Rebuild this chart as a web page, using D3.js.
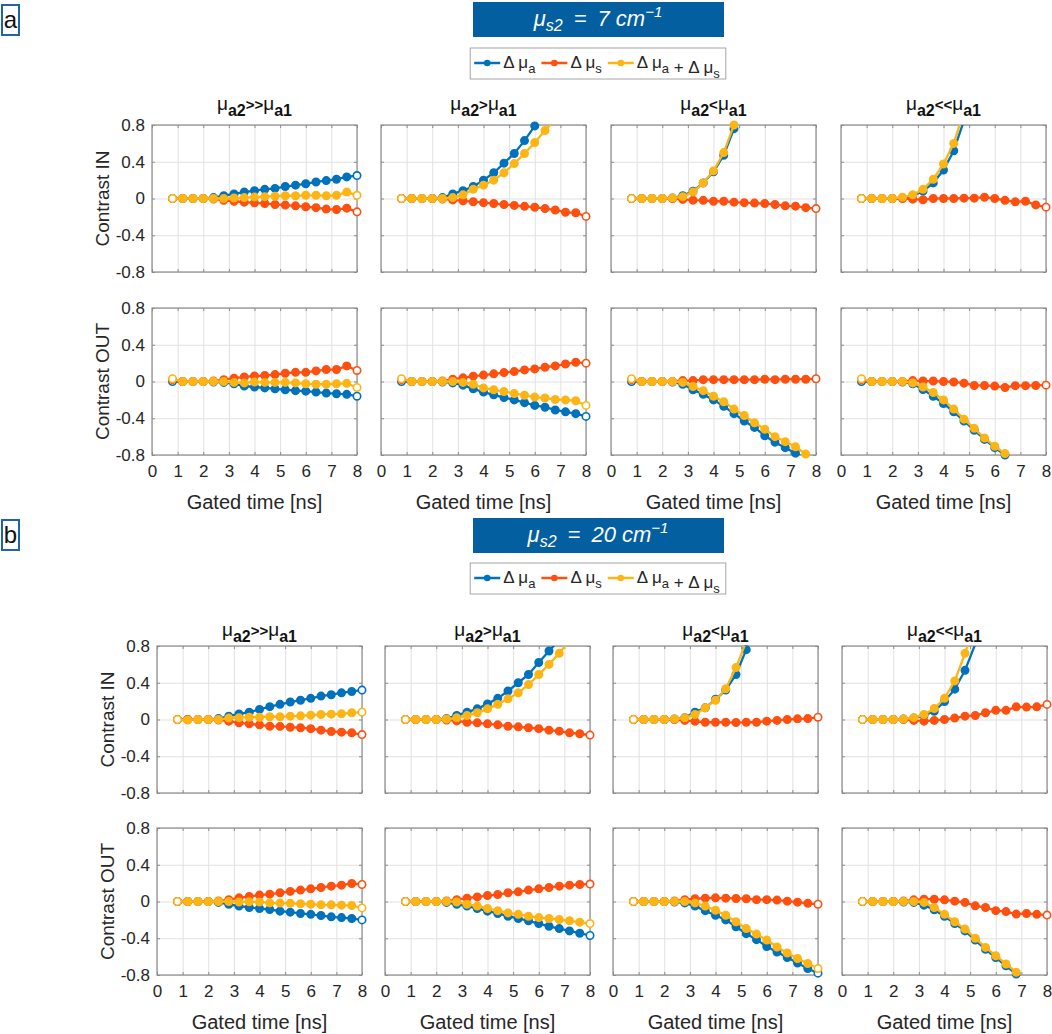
<!DOCTYPE html>
<html>
<head>
<meta charset="utf-8">
<script src="https://cdn.jsdelivr.net/npm/d3@7"></script>
<style>
body { margin: 0; background: #fff; }
text { font-family: "Liberation Sans", Arial, sans-serif; fill: #262626; }
</style>
</head>
<body>
<div id="chart"></div>
<script>
const STROKES = ["#0072BD", "#FF5010", "#FDB515"];
const FONT = '"Liberation Sans", Arial, sans-serif';

// Gated time samples [ns] and axis ticks
const TIMES = [0.8, 1.2, 1.6, 2.0, 2.4, 2.8, 3.2, 3.6, 4.0, 4.4, 4.8, 5.2, 5.6, 6.0, 6.4, 6.8, 7.2, 7.6, 8.0];
const X_TICKS = [0, 1, 2, 3, 4, 5, 6, 7, 8];
const Y_TICKS = [-0.8, -0.4, 0, 0.4, 0.8];
const Y_TICK_LABELS = ["-0.8", "-0.4", "0", "0.4", "0.8"];

const PANEL_LETTERS = ["a", "b"];
const PANEL_MUS2 = ["7", "20"];
const RELATIONS = [">>", ">", "<", "<<"];
const ROW_LABELS = ["Contrast IN", "Contrast OUT"];
const X_LABEL = "Gated time [ns]";
// legend entries as [text, subscript] pieces
const LEGEND_LABELS = [
    [["\u0394 \u03bc", "a"]],
    [["\u0394 \u03bc", "s"]],
    [["\u0394 \u03bc", "a"], [" + \u0394 \u03bc", "s"]]
];

// Panel a (mu_s2 = 7), one inner array per column, Contrast IN
const A_IN_DMUA = [
    [0, 0, 0, 0, 0.01, 0.03, 0.05, 0.07, 0.085, 0.1, 0.11, 0.13, 0.145, 0.16, 0.18, 0.195, 0.21, 0.235, 0.25],
    [0, 0, 0, 0, 0.01, 0.05, 0.085, 0.13, 0.2, 0.28, 0.385, 0.49, 0.63, 0.79, 1.0, 1.25, 1.5, 1.8, 2.1],
    [0, 0, 0, 0, 0.005, 0.03, 0.08, 0.17, 0.29, 0.47, 0.76, 1.2, 1.6, 2.0, 2.5, 3.0, 3.5, 4.0, 4.5],
    [0, 0, 0, 0, 0.005, 0.03, 0.08, 0.17, 0.31, 0.52, 0.85, 1.3, 1.8, 2.4, 3.0, 3.6, 4.2, 4.8, 5.4]
];
const A_IN_DMUS = [
    [0, 0, 0, 0, -0.005, -0.02, -0.03, -0.04, -0.047, -0.054, -0.065, -0.072, -0.08, -0.09, -0.1, -0.115, -0.12, -0.105, -0.145],
    [0, 0, 0, 0, -0.005, -0.015, -0.025, -0.035, -0.045, -0.055, -0.065, -0.075, -0.085, -0.095, -0.11, -0.125, -0.15, -0.155, -0.195],
    [0, 0, 0, 0, 0, -0.01, -0.018, -0.02, -0.03, -0.03, -0.04, -0.045, -0.05, -0.055, -0.065, -0.08, -0.083, -0.1, -0.11],
    [0, 0, 0, 0, 0, -0.007, -0.014, 0, 0, 0, 0.004, 0.004, 0.014, 0, -0.02, -0.036, -0.03, -0.07, -0.094]
];
const A_IN_DSUM = [
    [0, 0, 0, 0, 0, 0, 0.005, 0.01, 0.015, 0.02, 0.025, 0.03, 0.03, 0.035, 0.035, 0.03, 0.035, 0.07, 0.035],
    [0, 0, 0, 0, 0, 0.01, 0.04, 0.1, 0.145, 0.2, 0.28, 0.38, 0.49, 0.61, 0.74, 0.86, 1.1, 1.3, 1.5],
    [0, 0, 0, 0, 0.005, 0.02, 0.07, 0.17, 0.3, 0.5, 0.8, 1.2, 1.6, 2.0, 2.4, 2.8, 3.2, 3.6, 4.0],
    [0, 0, 0, 0, 0.014, 0.04, 0.1, 0.21, 0.375, 0.6, 0.95, 1.4, 1.9, 2.5, 3.1, 3.7, 4.3, 4.9, 5.5]
];

// Panel a, Contrast OUT
const A_OUT_DMUA = [
    [0, 0, 0, 0, -0.005, -0.01, -0.025, -0.05, -0.06, -0.07, -0.08, -0.09, -0.1, -0.105, -0.115, -0.126, -0.133, -0.14, -0.16],
    [0, 0, 0, 0, -0.005, -0.015, -0.04, -0.08, -0.115, -0.145, -0.175, -0.2, -0.23, -0.26, -0.28, -0.31, -0.33, -0.35, -0.38],
    [0, 0, 0, 0, -0.005, -0.03, -0.09, -0.14, -0.2, -0.27, -0.35, -0.43, -0.5, -0.59, -0.66, -0.72, -0.78, -0.84, -0.9],
    [0, 0, 0, 0, -0.005, -0.025, -0.087, -0.16, -0.24, -0.33, -0.43, -0.53, -0.63, -0.72, -0.8, -0.9, -1.0, -1.1, -1.2]
];
const A_OUT_DMUS = [
    [0.02, 0, 0, 0, 0.005, 0.02, 0.036, 0.05, 0.06, 0.065, 0.075, 0.09, 0.1, 0.1, 0.115, 0.13, 0.13, 0.17, 0.12],
    [0.02, 0, 0, 0, 0.005, 0.025, 0.04, 0.058, 0.07, 0.083, 0.097, 0.108, 0.126, 0.137, 0.155, 0.17, 0.19, 0.21, 0.2],
    [0.02, 0, 0, 0, 0, 0.01, 0.01, 0.02, 0.02, 0.02, 0.02, 0.02, 0.02, 0.025, 0.02, 0.025, 0.025, 0.025, 0.03],
    [0.02, 0, 0, 0, 0, 0.01, 0.005, 0.005, 0, -0.005, -0.018, -0.043, -0.043, -0.05, -0.065, -0.045, -0.045, -0.043, -0.04]
];
const A_OUT_DSUM = [
    [0.03, 0, 0, 0, 0, 0, -0.01, -0.015, -0.005, -0.01, -0.01, -0.01, -0.015, -0.025, -0.03, -0.03, -0.025, -0.02, -0.065],
    [0.03, 0, 0, 0, 0, 0, -0.01, -0.03, -0.07, -0.09, -0.11, -0.13, -0.15, -0.17, -0.18, -0.195, -0.2, -0.21, -0.26],
    [0.03, 0, 0, 0, 0, -0.01, -0.055, -0.1, -0.16, -0.22, -0.3, -0.37, -0.45, -0.52, -0.6, -0.655, -0.71, -0.79, -0.85],
    [0.03, 0, 0, 0, 0, -0.015, -0.06, -0.12, -0.2, -0.3, -0.41, -0.51, -0.615, -0.705, -0.785, -0.88, -0.98, -1.08, -1.18]
];

// Panel b (mu_s2 = 20), Contrast IN
const B_IN_DMUA = [
    [0, 0, 0, 0, 0.01, 0.036, 0.06, 0.08, 0.11, 0.14, 0.165, 0.19, 0.21, 0.23, 0.255, 0.27, 0.29, 0.305, 0.32],
    [0, 0, 0, 0, 0.01, 0.044, 0.08, 0.116, 0.17, 0.23, 0.31, 0.4, 0.49, 0.62, 0.745, 0.87, 1.0, 1.15, 1.3],
    [0, 0, 0, 0, 0.005, 0.02, 0.08, 0.127, 0.22, 0.32, 0.49, 0.76, 1.1, 1.5, 1.9, 2.3, 2.7, 3.1, 3.5],
    [0, 0, 0, 0, 0.005, 0.015, 0.044, 0.09, 0.196, 0.33, 0.535, 0.82, 1.2, 1.6, 2.0, 2.4, 2.8, 3.2, 3.6]
];
const B_IN_DMUS = [
    [0, 0, 0, 0, -0.005, -0.018, -0.036, -0.047, -0.058, -0.073, -0.075, -0.084, -0.09, -0.1, -0.116, -0.13, -0.138, -0.145, -0.164],
    [0, 0, 0, 0, -0.005, -0.015, -0.03, -0.036, -0.047, -0.058, -0.073, -0.08, -0.09, -0.1, -0.116, -0.127, -0.145, -0.155, -0.17],
    [0, 0, 0, 0, 0, -0.01, -0.02, -0.03, -0.03, -0.03, -0.033, -0.03, -0.03, -0.018, -0.01, 0, 0.007, 0.01, 0.025],
    [0, 0, 0, 0, 0, -0.01, -0.018, -0.01, 0, 0.015, 0.036, 0.044, 0.073, 0.1, 0.1, 0.138, 0.135, 0.138, 0.164]
];
const B_IN_DSUM = [
    [0, -0.005, 0, 0, 0, 0.015, 0.02, 0.025, 0.025, 0.03, 0.03, 0.036, 0.04, 0.047, 0.055, 0.058, 0.062, 0.073, 0.08],
    [0, 0, 0, 0, 0.005, 0.018, 0.044, 0.073, 0.116, 0.165, 0.225, 0.29, 0.38, 0.49, 0.6, 0.72, 0.86, 1.0, 1.15],
    [0, 0, 0, 0, 0.005, 0.018, 0.055, 0.127, 0.21, 0.335, 0.565, 0.85, 1.2, 1.6, 2.0, 2.4, 2.8, 3.2, 3.6],
    [0, 0, 0, 0, 0.005, 0.02, 0.055, 0.12, 0.23, 0.42, 0.72, 1.05, 1.4, 1.8, 2.2, 2.6, 3.0, 3.4, 3.8]
];

// Panel b, Contrast OUT
const B_OUT_DMUA = [
    [0, 0, 0, 0, -0.01, -0.03, -0.05, -0.065, -0.076, -0.087, -0.105, -0.116, -0.13, -0.14, -0.153, -0.167, -0.175, -0.185, -0.2],
    [0, 0, 0, 0, -0.01, -0.03, -0.05, -0.076, -0.105, -0.13, -0.16, -0.185, -0.21, -0.24, -0.27, -0.295, -0.32, -0.345, -0.37],
    [0, 0, 0, 0, -0.005, -0.015, -0.05, -0.1, -0.15, -0.2, -0.275, -0.35, -0.415, -0.49, -0.55, -0.61, -0.67, -0.73, -0.78],
    [0, 0, 0, 0, -0.005, -0.01, -0.04, -0.09, -0.16, -0.24, -0.32, -0.42, -0.52, -0.61, -0.7, -0.79, -0.88, -0.97, -1.06]
];
const B_OUT_DMUS = [
    [0, 0, 0, 0, 0.005, 0.02, 0.04, 0.055, 0.07, 0.08, 0.095, 0.11, 0.124, 0.138, 0.153, 0.167, 0.178, 0.196, 0.185],
    [0, 0, 0, 0, 0.005, 0.02, 0.036, 0.05, 0.065, 0.076, 0.095, 0.105, 0.124, 0.138, 0.153, 0.167, 0.178, 0.185, 0.19],
    [0, 0, 0, 0, 0.005, 0.02, 0.03, 0.036, 0.04, 0.036, 0.033, 0.03, 0.02, 0.02, 0.015, 0.004, -0.007, -0.02, -0.03],
    [0, 0, 0, 0, 0.005, 0.018, 0.025, 0.025, 0.018, 0.004, -0.01, -0.047, -0.065, -0.1, -0.11, -0.137, -0.13, -0.14, -0.148]
];
const B_OUT_DSUM = [
    [0, 0, 0, 0, 0, 0, -0.005, -0.003, -0.005, -0.015, -0.017, -0.02, -0.025, -0.03, -0.036, -0.036, -0.04, -0.044, -0.07],
    [0, 0, 0, 0, 0, -0.005, -0.03, -0.05, -0.076, -0.1, -0.124, -0.14, -0.16, -0.175, -0.185, -0.196, -0.21, -0.225, -0.24],
    [0, 0, 0, 0, 0, 0, -0.015, -0.05, -0.095, -0.15, -0.22, -0.295, -0.355, -0.42, -0.495, -0.56, -0.62, -0.675, -0.73],
    [0, 0, 0, 0, 0, 0, -0.01, -0.065, -0.14, -0.22, -0.3, -0.4, -0.5, -0.59, -0.68, -0.77, -0.86, -0.95, -1.04]
];

// Tables built from the arrays above: [panel][row] -> [dmua, dmus, dsum]
const PANEL_DATA = [
    [[A_IN_DMUA, A_IN_DMUS, A_IN_DSUM], [A_OUT_DMUA, A_OUT_DMUS, A_OUT_DSUM]],
    [[B_IN_DMUA, B_IN_DMUS, B_IN_DSUM], [B_OUT_DMUA, B_OUT_DMUS, B_OUT_DSUM]]
];

// Layout of each panel in page pixels
const LAYOUT = [
    { letterY: 5, boxY: 2, legendY: 48, titleY: 110, cols: [152, 381, 611, 841], rows: [125, 308] },
    { letterY: 520, boxY: 518, legendY: 563, titleY: 636, cols: [157, 385, 613, 842], rows: [646, 828] }
];
const W = 205;
const H = 147;

const x = d3.scaleLinear().domain([0, 8]).range([0, W]);
const y = d3.scaleLinear().domain([-0.8, 0.8]).range([H, 0]);

const svg = d3.select("#chart").append("svg")
    .attr("width", 1052)
    .attr("height", 1034);

PANEL_LETTERS.forEach((letter, p) => {
    const lay = LAYOUT[p];

    // Panel letter box
    svg.append("rect")
        .attr("x", 2).attr("y", lay.letterY)
        .attr("width", 17).attr("height", 30)
        .attr("fill", "#fff")
        .attr("stroke", "#1f64a6")
        .attr("stroke-width", 2);
    svg.append("text")
        .attr("x", 10.5).attr("y", lay.letterY + 23)
        .attr("text-anchor", "middle")
        .attr("font-size", 24)
        .style("fill", "#111")
        .text(letter);

    // Blue title box with mu_s2
    svg.append("rect")
        .attr("x", 473).attr("y", lay.boxY)
        .attr("width", 251).attr("height", 35)
        .attr("fill", "#035f9f");
    const tt = svg.append("text")
        .attr("x", 598).attr("y", lay.boxY + 24)
        .attr("text-anchor", "middle")
        .attr("font-family", '"DejaVu Serif", serif')
        .attr("font-style", "italic")
        .attr("font-size", 22)
        .style("fill", "#fff");
    tt.append("tspan").text("\u03bc");
    tt.append("tspan").attr("font-size", 16).attr("dy", 5).text("s2");
    tt.append("tspan").attr("dy", -5).text("\u2002=\u2002" + PANEL_MUS2[p] + " cm");
    tt.append("tspan").attr("font-size", 15).attr("dy", -9).text("\u22121");

    // Legend
    const lg = svg.append("g");
    const lgBox = lg.append("rect")
        .attr("fill", "#fff")
        .attr("stroke", "#a6a6a6")
        .attr("stroke-width", 1);
    let cx = 4;
    LEGEND_LABELS.forEach((pieces, s) => {
        lg.append("line")
            .attr("x1", cx).attr("x2", cx + 26)
            .attr("y1", 15).attr("y2", 15)
            .attr("stroke", STROKES[s])
            .attr("stroke-width", 2.5);
        lg.append("circle")
            .attr("cx", cx + 13).attr("cy", 15).attr("r", 3.3)
            .attr("fill", STROKES[s]);
        cx += 29;
        const lt = lg.append("text")
            .attr("x", cx).attr("y", 20)
            .attr("font-size", 17);
        pieces.forEach(pc => {
            lt.append("tspan").attr("dy", 0).text(pc[0]);
            lt.append("tspan").attr("font-size", 13).attr("dy", 5).text(pc[1]);
            lt.append("tspan").attr("dy", -5).text("");
        });
        cx += lt.node().getComputedTextLength() + 6;
    });
    const lgW = cx;
    lgBox.attr("x", 0).attr("y", 0).attr("width", lgW).attr("height", 31);
    lg.attr("transform", "translate(" + (598 - lgW / 2) + "," + lay.legendY + ")");

    // Subplots
    for (let r = 0; r < 2; r++) {
        for (let c = 0; c < 4; c++) {
            const left = lay.cols[c];
            const top = lay.rows[r];
            const g = svg.append("g")
                .attr("transform", "translate(" + left + "," + top + ")");

            // grid
            g.append("g")
                .attr("transform", "translate(0," + H + ")")
                .call(d3.axisBottom(x).tickValues(X_TICKS).tickSize(-H).tickFormat(""))
                .call(a => a.select(".domain").remove())
                .call(a => a.selectAll("line").attr("stroke", "#e1e1e1"));
            g.append("g")
                .call(d3.axisLeft(y).tickValues(Y_TICKS).tickSize(-W).tickFormat(""))
                .call(a => a.select(".domain").remove())
                .call(a => a.selectAll("line").attr("stroke", "#e1e1e1"));

            // inward ticks on all sides
            const xb = g.append("g")
                .attr("transform", "translate(0," + H + ")")
                .call(d3.axisBottom(x).tickValues(X_TICKS).tickSize(-3).tickPadding(10)
                    .tickFormat(r === 1 ? d3.format("d") : ""));
            const yl = g.append("g")
                .call(d3.axisLeft(y).tickValues(Y_TICKS).tickSize(-3).tickPadding(7)
                    .tickFormat(c === 0 ? ((d, i) => Y_TICK_LABELS[i]) : ""));
            g.append("g")
                .call(d3.axisTop(x).tickValues(X_TICKS).tickSize(-3).tickFormat(""));
            g.append("g")
                .attr("transform", "translate(" + W + ",0)")
                .call(d3.axisRight(y).tickValues(Y_TICKS).tickSize(-3).tickFormat(""));
            g.selectAll(".domain").remove();
            g.selectAll(".tick line").filter(function() { return d3.select(this).attr("stroke") !== "#e1e1e1"; })
                .attr("stroke", "#8c8c8c");
            [xb, yl].forEach(a => a
                .attr("font-family", FONT)
                .attr("font-size", 17)
                .selectAll("text").style("fill", "#262626"));

            // box
            g.append("rect")
                .attr("width", W).attr("height", H)
                .attr("fill", "none")
                .attr("stroke", "#8c8c8c")
                .attr("stroke-width", 1.2);

            // data
            const clipId = "clip-" + p + "-" + r + "-" + c;
            g.append("clipPath").attr("id", clipId)
                .append("rect").attr("width", W).attr("height", H);

            const valueline = d3.line()
                .x((d, i) => x(TIMES[i]))
                .y(d => y(d));

            PANEL_DATA[p][r].forEach((series, s) => {
                const vals = series[c];
                g.append("path")
                    .datum(vals)
                    .attr("clip-path", "url(#" + clipId + ")")
                    .attr("fill", "none")
                    .attr("stroke", STROKES[s])
                    .attr("stroke-width", 2.3)
                    .attr("d", valueline);

                const pts = vals.map((v, i) => ({ t: TIMES[i], v: v, i: i }))
                    .filter(d => d.v >= -0.805 && d.v <= 0.805);
                g.selectAll(null)
                    .data(pts)
                    .enter().append("circle")
                    .attr("cx", d => x(d.t))
                    .attr("cy", d => y(d.v))
                    .attr("r", 3.7)
                    .attr("fill", d => (d.i === 0 || d.i === vals.length - 1) ? "#fff" : STROKES[s])
                    .attr("stroke", STROKES[s])
                    .attr("stroke-width", 1.6);
            });

            // subplot title
            if (r === 0) {
                const st = svg.append("text")
                    .attr("x", left + W / 2).attr("y", lay.titleY)
                    .attr("text-anchor", "middle")
                    .attr("font-weight", "bold")
                    .style("fill", "#111");
                st.append("tspan").attr("font-size", 19).attr("font-weight", "normal").text("\u03bc");
                st.append("tspan").attr("font-size", 16).attr("dy", 6).text("a2");
                st.append("tspan").attr("font-size", 15).attr("dy", -6).text(RELATIONS[c]);
                st.append("tspan").attr("font-size", 19).attr("font-weight", "normal").text("\u03bc");
                st.append("tspan").attr("font-size", 16).attr("dy", 6).text("a1");
            }

            // y label
            if (c === 0) {
                svg.append("text")
                    .attr("transform", "translate(" + (left - 43) + "," + (top + H / 2) + ") rotate(-90)")
                    .attr("text-anchor", "middle")
                    .attr("font-size", 19)
                    .text(ROW_LABELS[r]);
            }

            // x label
            if (r === 1) {
                svg.append("text")
                    .attr("x", left + W / 2).attr("y", top + H + 54)
                    .attr("text-anchor", "middle")
                    .attr("font-size", 20)
                    .text(X_LABEL);
            }
        }
    }
});
</script>
</body>
</html>
